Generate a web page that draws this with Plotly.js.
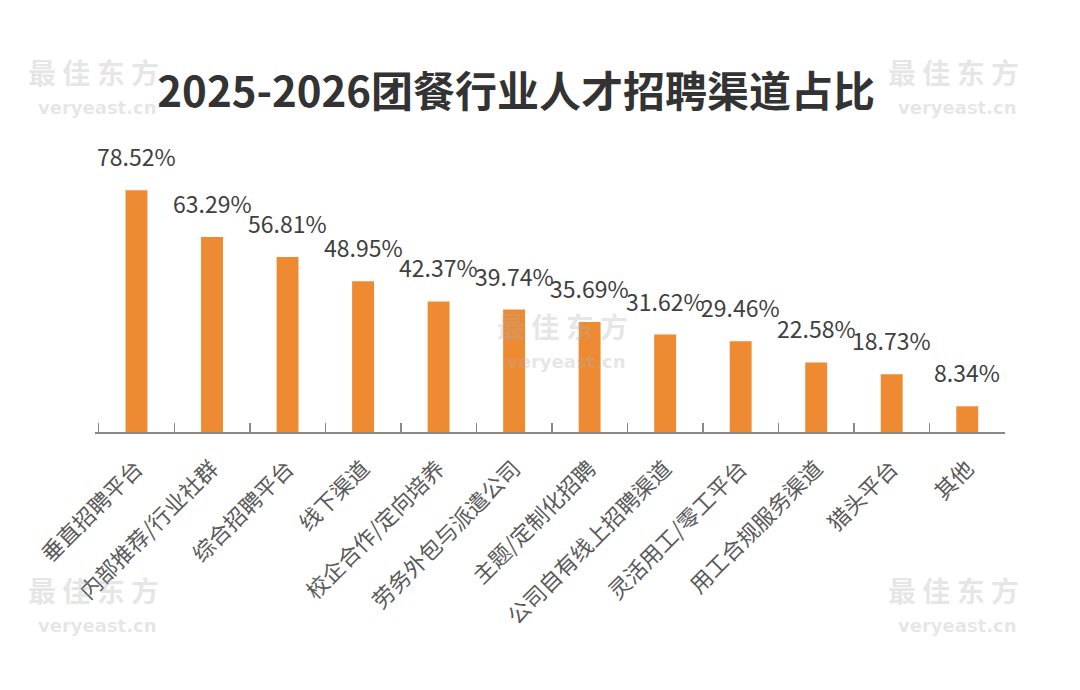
<!DOCTYPE html>
<html><head><meta charset="utf-8">
<script src="https://cdn.plot.ly/plotly-3.0.1.min.js"></script>
<style>html,body{margin:0;padding:0;background:#fff;}#chart{width:1080px;height:690px;}</style>
</head><body><div id="chart"></div>
<script>
var categories = ["垂直招聘平台","内部推荐/行业社群","综合招聘平台","线下渠道","校企合作/定向培养","劳务外包与派遣公司","主题/定制化招聘","公司自有线上招聘渠道","灵活用工/零工平台","用工合规服务渠道","猎头平台","其他"];
var values = [78.52, 63.29, 56.81, 48.95, 42.37, 39.74, 35.69, 31.62, 29.46, 22.58, 18.73, 8.34];
var valueLabels = values.map(function(v){return v.toFixed(2)+"%";});

var font = "Noto Sans CJK SC, Noto Sans, sans-serif";
var annotations = categories.map(function(c,i){
  return {x:c, y:values[i], text:valueLabels[i], showarrow:false, yanchor:"bottom", yshift:15,
    font:{family:font, size:23, color:"#404040"}};
});
var L = 95, W = 910, T = 140, H = 292;
// watermark anchors: [center x, split y]
var wm = [[93,94],[953,94],[562,348],[93,612],[953,612]];
var wmColor = "rgba(175,175,175,0.32)";
wm.forEach(function(w){
  annotations.push({xref:"paper",yref:"paper",x:(w[0]-L)/W,y:(T+H-w[1])/H,
    text:"<b>最 佳 东 方</b>", showarrow:false,
    font:{family:font,size:28,color:wmColor},xanchor:"center",yanchor:"bottom"});
  annotations.push({xref:"paper",yref:"paper",x:(w[0]+4-L)/W,y:(T+H-w[1]-1)/H,
    text:"<b>veryeast.cn</b>", showarrow:false,
    font:{family:"DejaVu Sans, sans-serif",size:18,color:wmColor},xanchor:"center",yanchor:"top"});
});

var trace = {type:"bar", x:categories, y:values, marker:{color:"#EE8A31"}, hoverinfo:"x+y"};
var layout = {
  width:1080, height:690,
  margin:{l:L, r:1080-L-W, t:T, b:690-T-H},
  paper_bgcolor:"#fff", plot_bgcolor:"#fff",
  title:{text:"<b>2025-2026团餐行业人才招聘渠道占比</b>", x:0.478, xanchor:"center", y:0.866, yanchor:"middle",
    font:{family:font, size:42, color:"#333333"}},
  bargap:0.71,
  showlegend:false,
  xaxis:{type:"category", showline:true, linecolor:"#888888", linewidth:2, ticks:"inside", tickson:"boundaries",
    ticklen:9, tickcolor:"#888888", tickwidth:1.5, tickangle:-45, ticklabelstandoff:13,
    tickfont:{family:font, size:22, color:"#5a5a5a"}, showgrid:false, zeroline:false},
  yaxis:{range:[0,94.8], visible:false, showgrid:false, zeroline:false},
  annotations:annotations
};
Plotly.newPlot("chart", [trace], layout, {displayModeBar:false, staticPlot:true});
</script></body></html>
